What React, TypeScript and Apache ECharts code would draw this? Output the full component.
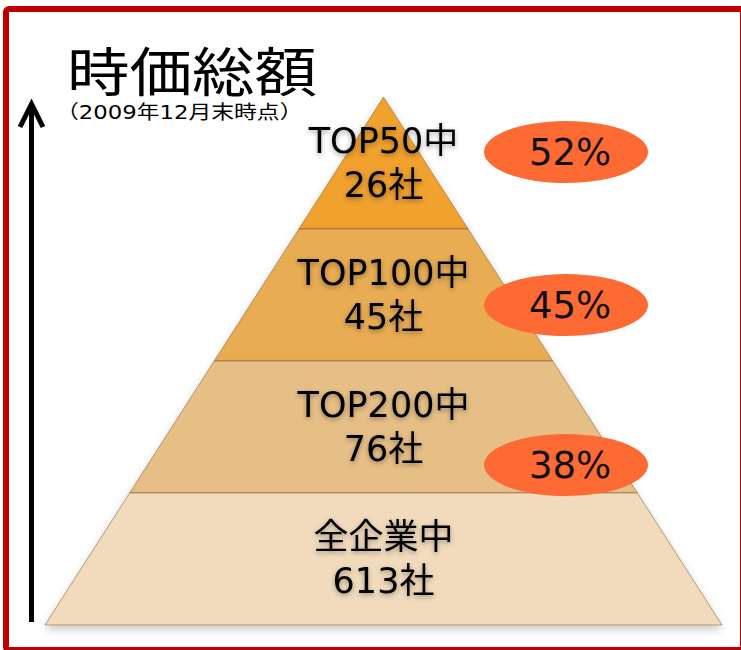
import React, { useEffect, useRef } from 'react';
import * as echarts from 'echarts';

// ---- data ----
const groups = ['TOP50', 'TOP100', 'TOP200', '全企業'];
const companyCounts = [26, 45, 76, 613];
const levelWidths = [25, 50, 75, 100];
const shareValues = [52, 45, 38];
const titleText = '時価総額';
const subtitleText = '（2009年12月末時点）';

// ---- styles / layout ----
const levelColors = ['#F0A12D', '#E8AC53', '#E6BF86', '#F1DBBC'];
const pyramid = { left: 45, top: 97, width: 677, height: 528 };
const ellipseLayout = { cx: 566, rx: 82, ry: 31, cys: [152, 305, 465] };
const latin = "'DejaVu Sans','Noto Sans CJK JP',sans-serif";

export default function App() {
  const ref = useRef<HTMLDivElement>(null);
  useEffect(() => {
    const chart = echarts.init(ref.current!, null, { renderer: 'svg' });
    const graphics: any[] = [
      {
        type: 'rect',
        shape: { x: 6, y: 9, width: 737, height: 641, r: 3 },
        style: { fill: 'none', stroke: '#C00000', lineWidth: 6 },
        z: 10,
      },
      {
        type: 'text',
        x: 67,
        y: 69,
        scaleX: 1.18,
        style: {
          text: titleText, x: 0, y: 0, verticalAlign: 'middle', align: 'left',
          fontSize: 53, fontFamily: "'Noto Sans CJK JP',sans-serif", fill: '#000',
        },
      },
      {
        type: 'text',
        x: 56,
        y: 113,
        scaleX: 1.2,
        style: {
          text: subtitleText, x: 0, y: 0, verticalAlign: 'middle', align: 'left',
          fontSize: 19, fontFamily: latin, fill: '#000',
        },
      },
      {
        type: 'line',
        shape: { x1: 31.5, y1: 622, x2: 31.5, y2: 106 },
        style: { stroke: '#000', lineWidth: 5 },
      },
      {
        type: 'polyline',
        shape: { points: [[20, 127], [31.5, 104], [43, 127]] },
        style: { stroke: '#000', lineWidth: 5, fill: 'none', lineJoin: 'miter' },
      },
    ];
    shareValues.forEach((v, i) => {
      graphics.push({
        type: 'ellipse',
        shape: { cx: ellipseLayout.cx, cy: ellipseLayout.cys[i], rx: ellipseLayout.rx, ry: ellipseLayout.ry },
        style: { fill: '#FE6A34' },
        z: 5,
      });
      graphics.push({
        type: 'text',
        style: {
          text: `${v}%`, x: ellipseLayout.cx + 4, y: ellipseLayout.cys[i], align: 'center', verticalAlign: 'middle',
          fontSize: 37, fontFamily: latin, fill: '#111',
        },
        z: 6,
      });
    });

    chart.setOption({
      animation: false,
      backgroundColor: '#fff',
      series: [
        {
          type: 'funnel',
          left: pyramid.left,
          top: pyramid.top,
          width: pyramid.width,
          height: pyramid.height,
          min: 0,
          max: 100,
          minSize: '0%',
          maxSize: '100%',
          sort: 'ascending',
          gap: 0,
          silent: true,
          emphasis: { disabled: true },
          label: {
            show: true,
            position: 'inside',
            formatter: (p: any) => `${groups[p.dataIndex]}中\n${companyCounts[p.dataIndex]}社`,
            fontSize: 35,
            lineHeight: 44,
            color: '#000',
            fontFamily: latin,
            textShadowColor: 'rgba(0,0,0,0.35)',
            textShadowBlur: 5,
            textShadowOffsetY: 2,
          },
          labelLine: { show: false },
          itemStyle: {
            borderColor: 'rgba(130,95,45,0.55)',
            borderWidth: 1,
            shadowBlur: 8,
            shadowColor: 'rgba(0,0,0,0.22)',
            shadowOffsetY: 4,
          },
          data: groups.map((g, i) => ({
            name: g,
            value: levelWidths[i],
            itemStyle: { color: levelColors[i] },
          })),
        },
      ],
      graphic: graphics,
    });
    return () => chart.dispose();
  }, []);
  return (
    <div
      ref={ref}
      style={{ position: 'fixed', left: 0, top: 0, width: 741, height: 650 }}
    />
  );
}
